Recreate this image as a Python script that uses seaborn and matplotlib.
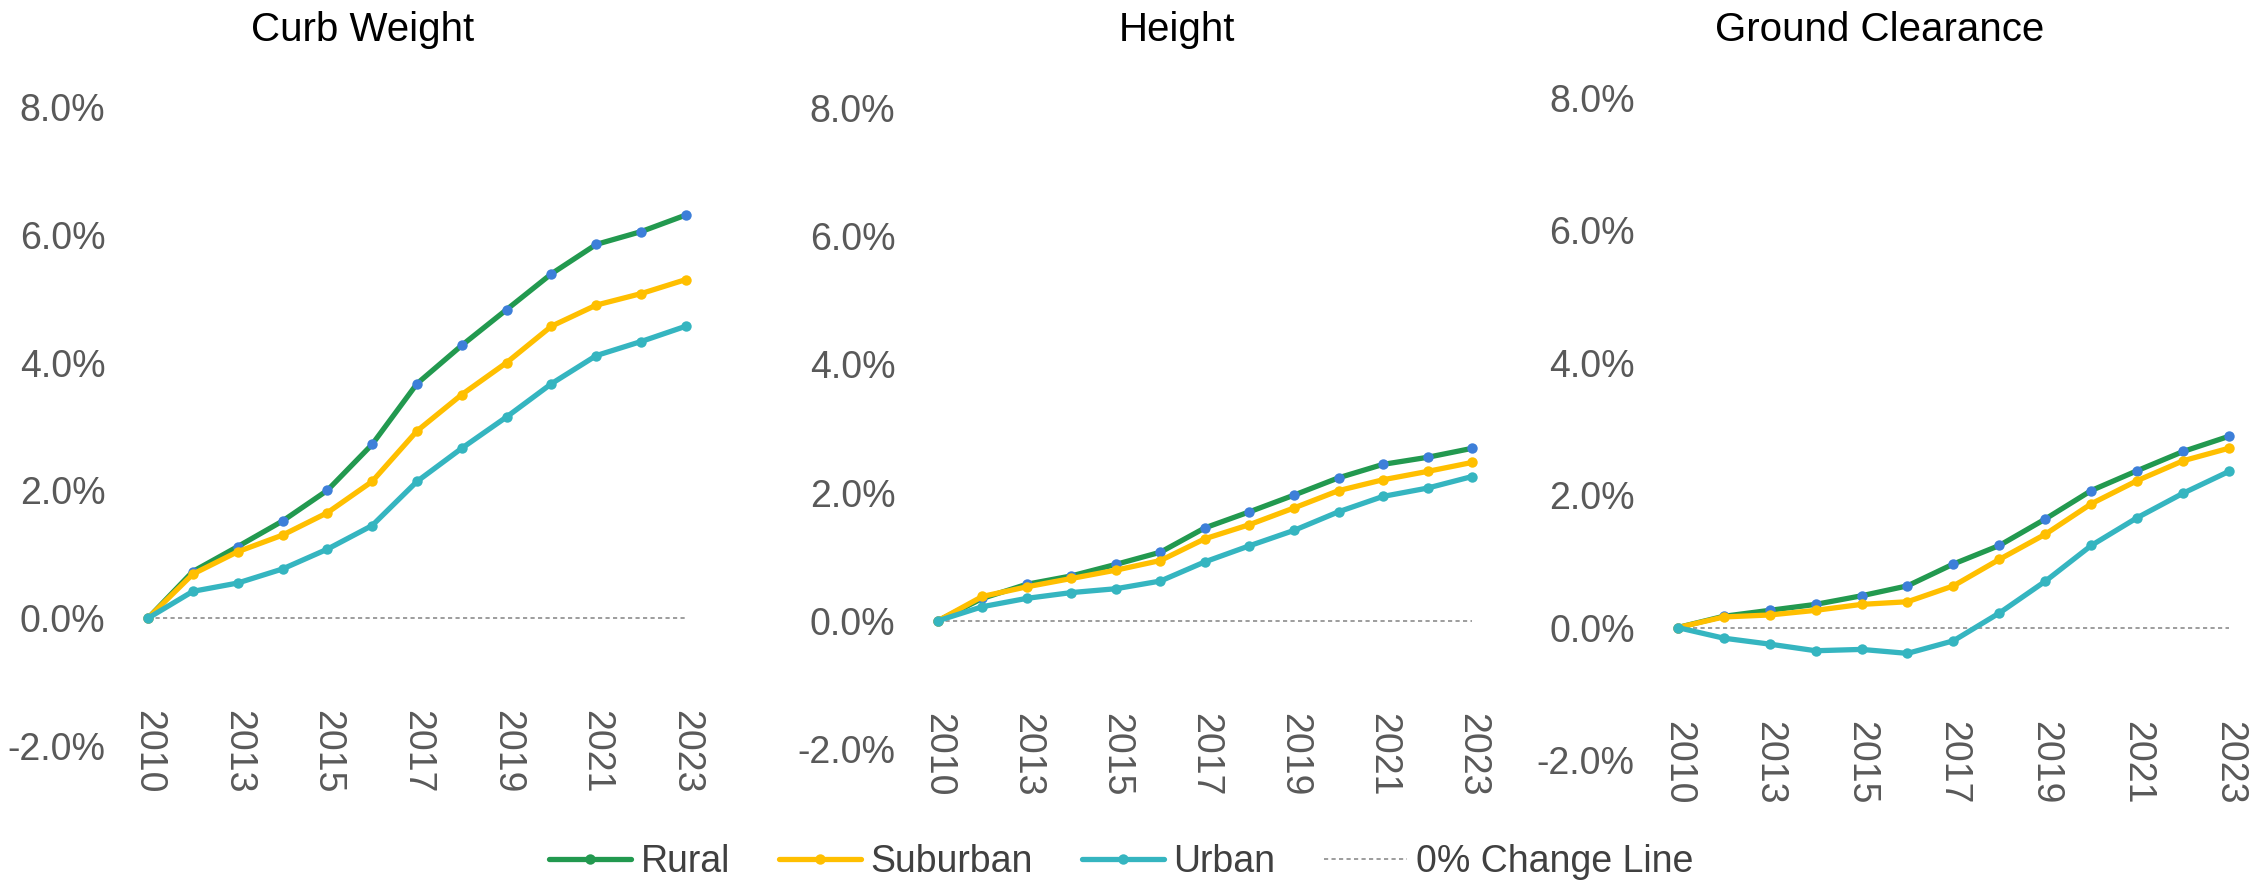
import matplotlib
matplotlib.use("Agg")
import matplotlib.pyplot as plt
from matplotlib.ticker import PercentFormatter
import pandas as pd
import seaborn as sns

# Tahun (2011 tidak ada di data)
years = ["2010", "2012", "2013", "2014", "2015", "2016", "2017",
         "2018", "2019", "2020", "2021", "2022", "2023"]
areas = ["Rural", "Suburban", "Urban"]

# Persentase perubahan sejak 2010
curb_rural = [0.0, 0.73, 1.12, 1.52, 2.00, 2.72, 3.67, 4.27, 4.83, 5.39, 5.85, 6.05, 6.31]
curb_suburban = [0.0, 0.69, 1.04, 1.30, 1.65, 2.14, 2.93, 3.50, 4.00, 4.57, 4.90, 5.08, 5.30]
curb_urban = [0.0, 0.42, 0.55, 0.77, 1.08, 1.45, 2.14, 2.66, 3.15, 3.67, 4.11, 4.33, 4.57]

height_rural = [0.0, 0.35, 0.57, 0.70, 0.88, 1.07, 1.45, 1.70, 1.96, 2.23, 2.44, 2.55, 2.69]
height_suburban = [0.0, 0.38, 0.53, 0.66, 0.79, 0.94, 1.28, 1.50, 1.76, 2.03, 2.20, 2.33, 2.47]
height_urban = [0.0, 0.22, 0.35, 0.44, 0.50, 0.62, 0.92, 1.17, 1.41, 1.70, 1.94, 2.07, 2.25]

ground_rural = [0.0, 0.17, 0.26, 0.35, 0.48, 0.63, 0.96, 1.24, 1.64, 2.07, 2.37, 2.66, 2.89]
ground_suburban = [0.0, 0.16, 0.19, 0.26, 0.35, 0.39, 0.63, 1.03, 1.41, 1.87, 2.22, 2.52, 2.71]
ground_urban = [0.0, -0.16, -0.25, -0.35, -0.33, -0.39, -0.20, 0.22, 0.70, 1.24, 1.66, 2.03, 2.36]

zero_line = [0.0] * len(years)

panels = [
    ("Curb Weight", [curb_rural, curb_suburban, curb_urban]),
    ("Height", [height_rural, height_suburban, height_urban]),
    ("Ground Clearance", [ground_rural, ground_suburban, ground_urban]),
]

colors = {"Rural": "#22994f", "Suburban": "#ffbf00", "Urban": "#35b5c0"}
rural_marker = "#3d7fd9"

sns.set_style("white")
plt.rcParams["font.family"] = ["Liberation Sans", "DejaVu Sans"]
plt.rcParams["axes.unicode_minus"] = False

fig = plt.figure(figsize=(22.54, 8.8), dpi=100)

# posisi tiap panel (left, bottom, width, height)
boxes = [
    (0.0597, 0.1523, 0.2506, 0.7261),
    (0.4102, 0.1489, 0.2488, 0.7284),
    (0.7382, 0.1364, 0.2569, 0.7523),
]
title_x = [363 / 2254, 1177 / 2254, 1880 / 2254]
xpads = [-26, -26, -28]

for i, (title, series) in enumerate(panels):
    ax = fig.add_axes(boxes[i])
    rows = []
    for area, vals in zip(areas, series):
        for y, v in zip(years, vals):
            rows.append({"Year": y, "Area": area, "Change": v / 100})
    df = pd.DataFrame(rows)

    zdf = pd.DataFrame({"Year": years, "Change": zero_line})
    sns.lineplot(data=zdf, x="Year", y="Change", ax=ax, color="#8c8c8c",
                 lw=1.2, linestyle=(0, (2.5, 2)), label="0% Change Line", zorder=1)
    sns.lineplot(data=df, x="Year", y="Change", hue="Area", hue_order=areas,
                 palette=colors, marker="o", markersize=7.5, markeredgewidth=0,
                 lw=3.8, ax=ax, zorder=3, sort=False)

    # titik Rural berwarna biru seperti di gambar asli (garis ke-2 setelah garis nol)
    ax.lines[1].set_markerfacecolor(rural_marker)

    ax.set_xlim(-0.3, 12.3)
    ax.set_ylim(-0.02, 0.08)
    ax.set_yticks([-0.02, 0.0, 0.02, 0.04, 0.06, 0.08])
    ax.yaxis.set_major_formatter(PercentFormatter(1, decimals=1))
    ax.set_xticks(range(0, len(years), 2))
    ax.set_xticklabels(years[::2], rotation=-90)
    ax.tick_params(axis="x", length=0, pad=xpads[i], labelsize=27, labelcolor="#595959")
    ax.tick_params(axis="y", length=0, pad=21, labelsize=27, labelcolor="#595959")
    ax.set_xlabel("")
    ax.set_ylabel("")
    sns.despine(ax=ax, left=True, bottom=True)
    ax.get_legend().remove()

    fig.text(title_x[i], 1 - 30 / 880, title, ha="center", va="center",
             fontsize=29, color="black")

    if i == 0:
        handles, labels = ax.get_legend_handles_labels()

order = ["Rural", "Suburban", "Urban", "0% Change Line"]
hmap = dict(zip(labels, handles))
leg_handles = [hmap[k] for k in order]
leg = fig.legend(leg_handles, order, loc="center", bbox_to_anchor=(1121 / 2254, 1 - 862 / 880),
                 ncol=4, frameon=False, fontsize=27, handlelength=2.2,
                 handletextpad=0.25, columnspacing=1.3)
for t in leg.get_texts():
    t.set_color("#404040")

fig.savefig("out.png", dpi=100, facecolor="white")
